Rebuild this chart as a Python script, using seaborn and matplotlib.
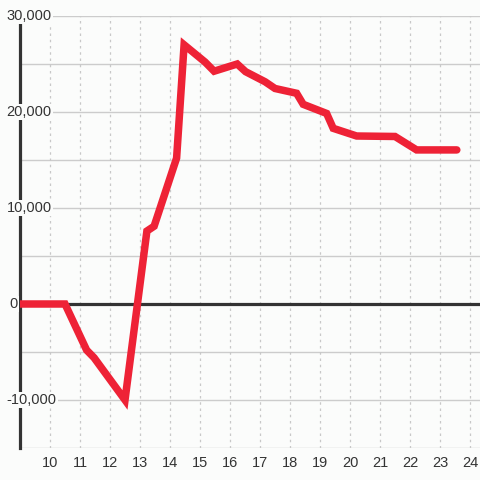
import numpy as np
import pandas as pd
import matplotlib
matplotlib.use("Agg")
import matplotlib.pyplot as plt
import matplotlib.transforms as mtransforms
import seaborn as sns

# hour of day vs cumulative value
hours = [9.0, 10.5, 11.22, 11.47, 12.5, 13.23, 13.47, 14.22, 14.47, 15.17,
         15.47, 16.24, 16.52, 17.17, 17.5, 18.22, 18.44, 19.22, 19.44, 20.22,
         21.5, 22.22, 23.56]
values = [0, 0, -4800, -5600, -10000, 7600, 8100, 15200, 27000, 25200,
          24250, 25000, 24200, 23150, 22450, 21950, 20800, 19850, 18300, 17500,
          17450, 16050, 16050]
x_ticks = list(range(10, 25))
y_label_ticks = [30000, 20000, 10000, 0, -10000]
y_grid = [-15000, -10000, -5000, 0, 5000, 10000, 15000, 20000, 25000, 30000]

df = pd.DataFrame({"hour": hours, "value": values})

BG = "#fbfcfb"
sns.set_style("white")
plt.rcParams["font.family"] = ["Liberation Sans", "DejaVu Sans"]

fig = plt.figure(figsize=(4.8, 4.8), dpi=100, facecolor=BG)
ax = fig.add_axes([20 / 480, 32 / 480, 460 / 480, 432 / 480], facecolor=BG)

# grid
for g in y_grid:
    ax.axhline(g, color="#cccccc", lw=1, zorder=1)
for t in x_ticks:
    ax.axvline(t, color="#c8c8c8", lw=0.9, ls=(0, (2, 3)), zorder=1)
ax.axhline(0, color="#333333", lw=2.3, zorder=2)

sns.lineplot(data=df, x="hour", y="value", color="#ee2236", lw=5.4,
             ax=ax, zorder=3, solid_joinstyle="miter")

ax.set_xlim(9, 24.333)
ax.set_ylim(-15000, 30000)

for s in ["top", "right", "bottom"]:
    ax.spines[s].set_visible(False)
ax.spines["left"].set_color("#333333")
ax.spines["left"].set_linewidth(2.3)
ax.spines["left"].set_bounds(-15000, 29200)
ax.spines["left"].set_zorder(2)

ax.set_xticks(x_ticks)
ax.set_xticklabels([str(t) for t in x_ticks])
ax.tick_params(axis="x", length=0, pad=6, labelsize=10.5, labelcolor="#333333")
ax.set_yticks([])
ax.set_xlabel("")
ax.set_ylabel("")

trans = mtransforms.blended_transform_factory(ax.transAxes, ax.transData)
for v in y_label_ticks:
    ax.text(-0.029 if v != 0 else -0.024, v, f"{v:,}",
            transform=trans, ha="left", va="center", fontsize=10.5,
            color="#333333", zorder=4, clip_on=False,
            bbox=dict(boxstyle="square,pad=0.1", fc=BG, ec="none"))

fig.savefig("out.png", dpi=100, facecolor=BG)
